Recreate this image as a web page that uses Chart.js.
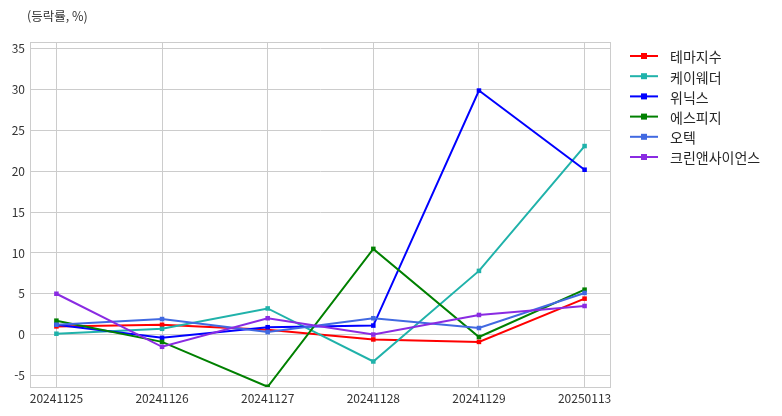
<!doctype html>
<html lang="ko">
<head>
<meta charset="utf-8">
<title>등락률</title>
<script src="https://cdn.jsdelivr.net/npm/chart.js@4.4.1/dist/chart.umd.min.js"></script>
<style>
  html, body { margin: 0; padding: 0; background: #fff; }
  #wrap { width: 782px; height: 416px; position: relative; }
</style>
</head>
<body>
<div id="wrap"><canvas id="myChart" width="782" height="416"></canvas></div>
<script>
// dates on the x axis
var dates = ['20241125', '20241126', '20241127', '20241128', '20241129', '20250113'];

// series names
var names = ['테마지수', '케이웨더', '위닉스', '에스피지', '오텍', '크린앤사이언스'];
var colors = ['#ff0000', '#20b2aa', '#0000ff', '#008000', '#4169e1', '#8a2be2'];

// values (%)
var themeIdx   = [1.0, 1.2, 0.6, -0.6, -0.9, 4.4];
var kweather   = [0.1, 0.7, 3.2, -3.3, 7.8, 23.1];
var winix      = [1.2, -0.4, 0.9, 1.1, 29.9, 20.2];
var spg        = [1.7, -0.9, -6.4, 10.5, -0.3, 5.5];
var otech      = [1.2, 1.9, 0.3, 2.0, 0.8, 5.1];
var cleanSci   = [5.0, -1.5, 2.0, 0.0, 2.4, 3.5];

var yTicks = [-5, 0, 5, 10, 15, 20, 25, 30, 35];

var series = [themeIdx, kweather, winix, spg, otech, cleanSci];
var FONT = '"Noto Sans CJK KR", "Noto Sans", sans-serif';

var datasets = series.map(function (vals, i) {
  return {
    label: names[i],
    data: vals.map(function (v, j) { return { x: j, y: v }; }),
    borderColor: colors[i],
    backgroundColor: colors[i],
    borderWidth: 2,
    pointStyle: 'rect',
    pointRadius: 3.2,
    pointBorderWidth: 0,
    tension: 0,
    order: series.length - i
  };
});

// frame, title and legend with line+marker samples
var extras = {
  id: 'extras',
  afterDraw: function (chart) {
    var ctx = chart.ctx, a = chart.chartArea;
    ctx.save();
    ctx.strokeStyle = '#cccccc';
    ctx.lineWidth = 1;
    ctx.strokeRect(a.left + 0.5, a.top + 0.5, a.right - a.left - 1, a.bottom - a.top - 1);

    ctx.fillStyle = '#333';
    ctx.font = '12.5px ' + FONT;
    ctx.textBaseline = 'middle';
    ctx.textAlign = 'left';
    ctx.fillText('(등락률, %)', 27, 16);

    ctx.font = '14px ' + FONT;
    for (var i = 0; i < names.length; i++) {
      var y = 56 + i * 20.2;
      ctx.strokeStyle = colors[i];
      ctx.lineWidth = 2;
      ctx.beginPath();
      ctx.moveTo(630, y);
      ctx.lineTo(658, y);
      ctx.stroke();
      ctx.fillStyle = colors[i];
      ctx.fillRect(641, y - 3, 6, 6);
      ctx.fillStyle = '#262626';
      ctx.fillText(names[i], 670, y + 1);
    }
    ctx.restore();
  }
};

new Chart(document.getElementById('myChart'), {
  type: 'line',
  data: { datasets: datasets },
  options: {
    responsive: false,
    animation: false,
    layout: { padding: { top: 42, right: 171, left: 0, bottom: 0 } },
    plugins: { legend: { display: false }, tooltip: { enabled: false } },
    scales: {
      x: {
        type: 'linear',
        min: -0.25,
        max: 5.25,
        afterBuildTicks: function (s) {
          s.ticks = dates.map(function (d, j) { return { value: j }; });
        },
        afterFit: function (s) { s.height = 28; },
        ticks: {
          callback: function (v) { return dates[v]; },
          color: '#333',
          font: { family: FONT, size: 12 },
          padding: 3,
          maxRotation: 0
        },
        grid: { color: '#cccccc', lineWidth: 1, drawTicks: false },
        border: { display: false }
      },
      y: {
        min: -6.55,
        max: 35.85,
        afterBuildTicks: function (s) {
          s.ticks = yTicks.map(function (v) { return { value: v }; });
        },
        afterFit: function (s) { s.width = 30; },
        ticks: {
          color: '#333',
          font: { family: FONT, size: 12 },
          padding: 5
        },
        grid: { color: '#cccccc', lineWidth: 1, drawTicks: false },
        border: { display: false }
      }
    }
  },
  plugins: [extras]
});
</script>
</body>
</html>
